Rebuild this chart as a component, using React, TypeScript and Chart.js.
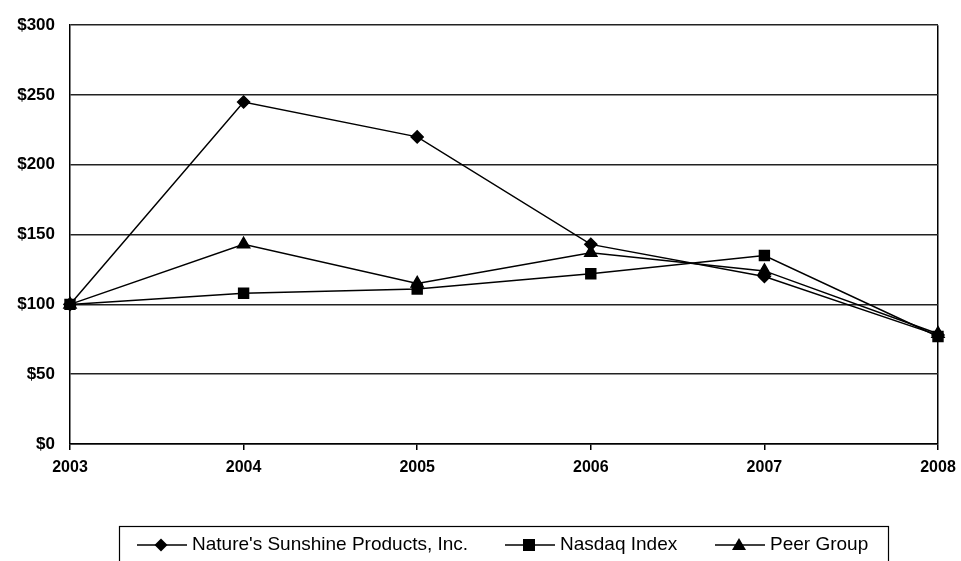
import React, { useEffect, useRef } from "react";
import { Chart, registerables } from "chart.js";

Chart.register(...registerables);

const years = ["2003", "2004", "2005", "2006", "2007", "2008"];
const naturesSunshine = [100, 245, 220, 143, 120, 78];
const nasdaqIndex = [100, 108, 111, 122, 135, 77];
const peerGroup = [100, 143, 115, 137, 124, 79];
const seriesNames = ["Nature's Sunshine Products, Inc.", "Nasdaq Index", "Peer Group"];

const FONT = "'Liberation Sans', Arial, sans-serif";

const legendPlugin = {
  id: "boxLegend",
  afterDraw(chart: any) {
    const ctx = chart.ctx as CanvasRenderingContext2D;
    ctx.save();
    ctx.strokeStyle = "#000";
    ctx.lineWidth = 1.2;
    ctx.strokeRect(119.5, 526.5, 769, 45);
    const starts = [137, 505, 715];
    const cy = 545;
    chart.data.datasets.forEach((ds: any, i: number) => {
      const x0 = starts[i];
      ctx.strokeStyle = "#000";
      ctx.lineWidth = 1.5;
      ctx.beginPath();
      ctx.moveTo(x0, cy);
      ctx.lineTo(x0 + 50, cy);
      ctx.stroke();
      ctx.fillStyle = "#000";
      const mx = x0 + 24;
      const st = ds.pointStyle;
      ctx.beginPath();
      if (st === "rectRot") {
        const r = 6.5;
        ctx.moveTo(mx, cy - r);
        ctx.lineTo(mx + r, cy);
        ctx.lineTo(mx, cy + r);
        ctx.lineTo(mx - r, cy);
        ctx.closePath();
      } else if (st === "rect") {
        ctx.rect(mx - 6, cy - 6, 12, 12);
      } else {
        ctx.moveTo(mx, cy - 7);
        ctx.lineTo(mx + 7, cy + 5);
        ctx.lineTo(mx - 7, cy + 5);
        ctx.closePath();
      }
      ctx.fill();
      ctx.font = `19px ${FONT}`;
      ctx.textBaseline = "middle";
      ctx.textAlign = "left";
      ctx.fillText(ds.label, x0 + 55, cy);
    });
    ctx.restore();
  },
};

export default function App() {
  const ref = useRef<HTMLCanvasElement>(null);
  useEffect(() => {
    if (!ref.current) return;
    const common = {
      borderColor: "#000",
      backgroundColor: "#000",
      borderWidth: 1.5,
      pointBorderColor: "#000",
      pointBackgroundColor: "#000",
      tension: 0,
    };
    const chart = new Chart(ref.current, {
      type: "line",
      data: {
        labels: years,
        datasets: [
          { ...common, label: seriesNames[0], data: naturesSunshine, pointStyle: "rectRot", pointRadius: 6, order: 2 },
          { ...common, label: seriesNames[1], data: nasdaqIndex, pointStyle: "rect", pointRadius: 7, order: 0 },
          { ...common, label: seriesNames[2], data: peerGroup, pointStyle: "triangle", pointRadius: 7, order: 1 },
        ],
      },
      options: {
        responsive: false,
        animation: false,
        layout: { padding: { top: 22, right: 23, left: 0, bottom: 0 } },
        plugins: { legend: { display: false }, tooltip: { enabled: false } },
        scales: {
          x: {
            offset: false,
            afterFit: (s: any) => {
              s.height = 117;
              s.paddingLeft = 0;
              s.paddingRight = 0;
            },
            grid: {
              drawOnChartArea: true,
              color: (c: any) => (c.index === years.length - 1 ? "#000" : "rgba(0,0,0,0)"),
              tickColor: "#000",
              tickLength: 6,
              lineWidth: 1.5,
            },
            border: { display: true, color: "#000", width: 1.5 },
            ticks: {
              color: "#000",
              font: { family: FONT, size: 16, weight: "bold" },
              padding: 8,
              maxRotation: 0,
            },
          },
          y: {
            min: 0,
            max: 300,
            afterFit: (s: any) => { s.width = 70; },
            grid: { color: "#222", lineWidth: 1.5, drawTicks: false },
            border: { display: true, color: "#000", width: 1.5 },
            ticks: {
              stepSize: 50,
              color: "#000",
              padding: 15,
              font: { family: FONT, size: 17, weight: "bold" },
              callback: (v: any) => "$" + v,
            },
          },
        },
      },
      plugins: [legendPlugin],
    });
    return () => chart.destroy();
  }, []);
  return (
    <div style={{ position: "absolute", left: 0, top: 0, width: 961, height: 561, background: "#fff" }}>
      <canvas ref={ref} width={961} height={561} style={{ width: 961, height: 561 }} />
    </div>
  );
}
